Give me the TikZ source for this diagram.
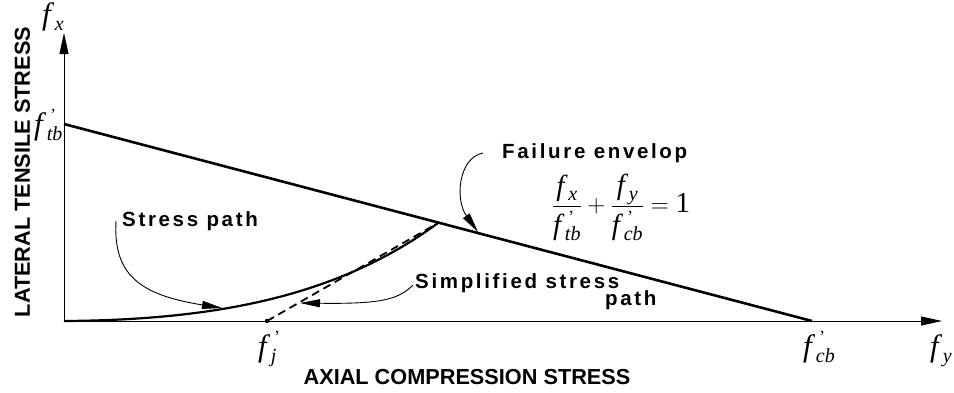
\documentclass[tikz,border=0pt]{standalone}
\usepackage{fontspec}
\setmainfont{Liberation Serif}
\newfontfamily\axfont{Liberation Sans}
\newfontfamily\lblfont{Liberation Sans}[LetterSpace=13]
\usetikzlibrary{arrows.meta}
\newcommand\ssz{\fontsize{20}{20}\selectfont}
\newcommand\psz{\fontsize{17}{17}\selectfont}
\newcommand\fl[1]{\textit{f}\kern0.5pt\raisebox{-0.2em}{\ssz\textit{#1}}}
\newcommand\flp[1]{\textit{f}\kern0.5pt\rlap{\kern3.5pt\raisebox{0.42em}{\psz'}}\raisebox{-0.2em}{\ssz\textit{#1}}}
\begin{document}
\begin{tikzpicture}[x=1pt,y=-1pt,
 axis/.style={line width=1pt,-{Triangle[length=21pt,width=9pt]}},
 env/.style={line width=2.6pt},
 callout/.style={line width=0.9pt,-{Triangle[length=20pt,width=8pt]}},
 lbl/.style={font=\lblfont\bfseries\fontsize{20.5}{21}\selectfont, inner sep=0pt, anchor=base west},
 axlbl/.style={font=\axfont\bfseries\fontsize{21.7}{22}\selectfont, inner sep=0pt, anchor=base},
 sym/.style={font=\fontsize{31}{31}\selectfont, inner sep=0pt, anchor=base west}]
\useasboundingbox (0,0) rectangle (954,392);
\coordinate (O) at (64,321);
\coordinate (ytop) at (64,33);
\coordinate (xend) at (942,321);
\coordinate (tb) at (64,124);
\coordinate (cb) at (812,321);
\coordinate (fj) at (267,321);
\coordinate (P) at (438,223);
\draw[axis] (O) -- (ytop);
\draw[axis] (O) -- (xend);
\draw[env] (tb) -- (cb);
\draw[line width=2.2pt] (O) .. controls (220,320) and (340,295) .. (P);
\draw[line width=1.8pt, dash pattern=on 8pt off 5pt] (fj) -- (P);
\fill (fj) circle (2.2pt);
% labels and callouts
\node[lbl] (sp) at (122,226) {Stress path};
\coordinate (spA) at (116,221);
\coordinate (spB) at (222,308);
\draw[callout] (spA) .. controls (113,275) and (140,295) .. (spB);
\node[lbl] (ssp) at (415,288) {Simplified stress};
\node[lbl] (ssp2) at (605,305) {path};
\coordinate (sA) at (413,285);
\coordinate (sB) at (300,303);
\draw[callout] (sA) .. controls (398,300) and (380,304) .. (sB);
\node[lbl] (fe) at (502,158) {Failure envelop};
\coordinate (fA) at (483,153);
\coordinate (fB) at (478,232);
\draw[callout] (fA) .. controls (458,158) and (455,200) .. (fB);
\node[font=\fontsize{29}{29}\selectfont, inner sep=0pt, anchor=base] (eq) at (621,212)
  {$\displaystyle\frac{\hbox{\fl{x}}}{\hbox{\vrule height 0.95em width 0pt\flp{tb}}}+\frac{\hbox{\fl{y}}}{\hbox{\vrule height 0.95em width 0pt\flp{cb}}}=\hbox{1}$};
% axis labels
\node[axlbl, rotate=90] (ylab) at (30,172) {LATERAL TENSILE STRESS};
\node[axlbl] (xlab) at (467,384) {AXIAL COMPRESSION STRESS};
% symbols
\node[sym] (fx) at (42,24) {\fl{x}};
\node[sym] (ftb) at (34,134) {\flp{tb}};
\node[sym] (fjl) at (258,356) {\flp{j}};
\node[sym] (fcb) at (803,356) {\flp{cb}};
\node[sym] (fy) at (930,356) {\fl{y}};
\end{tikzpicture}
\end{document}
